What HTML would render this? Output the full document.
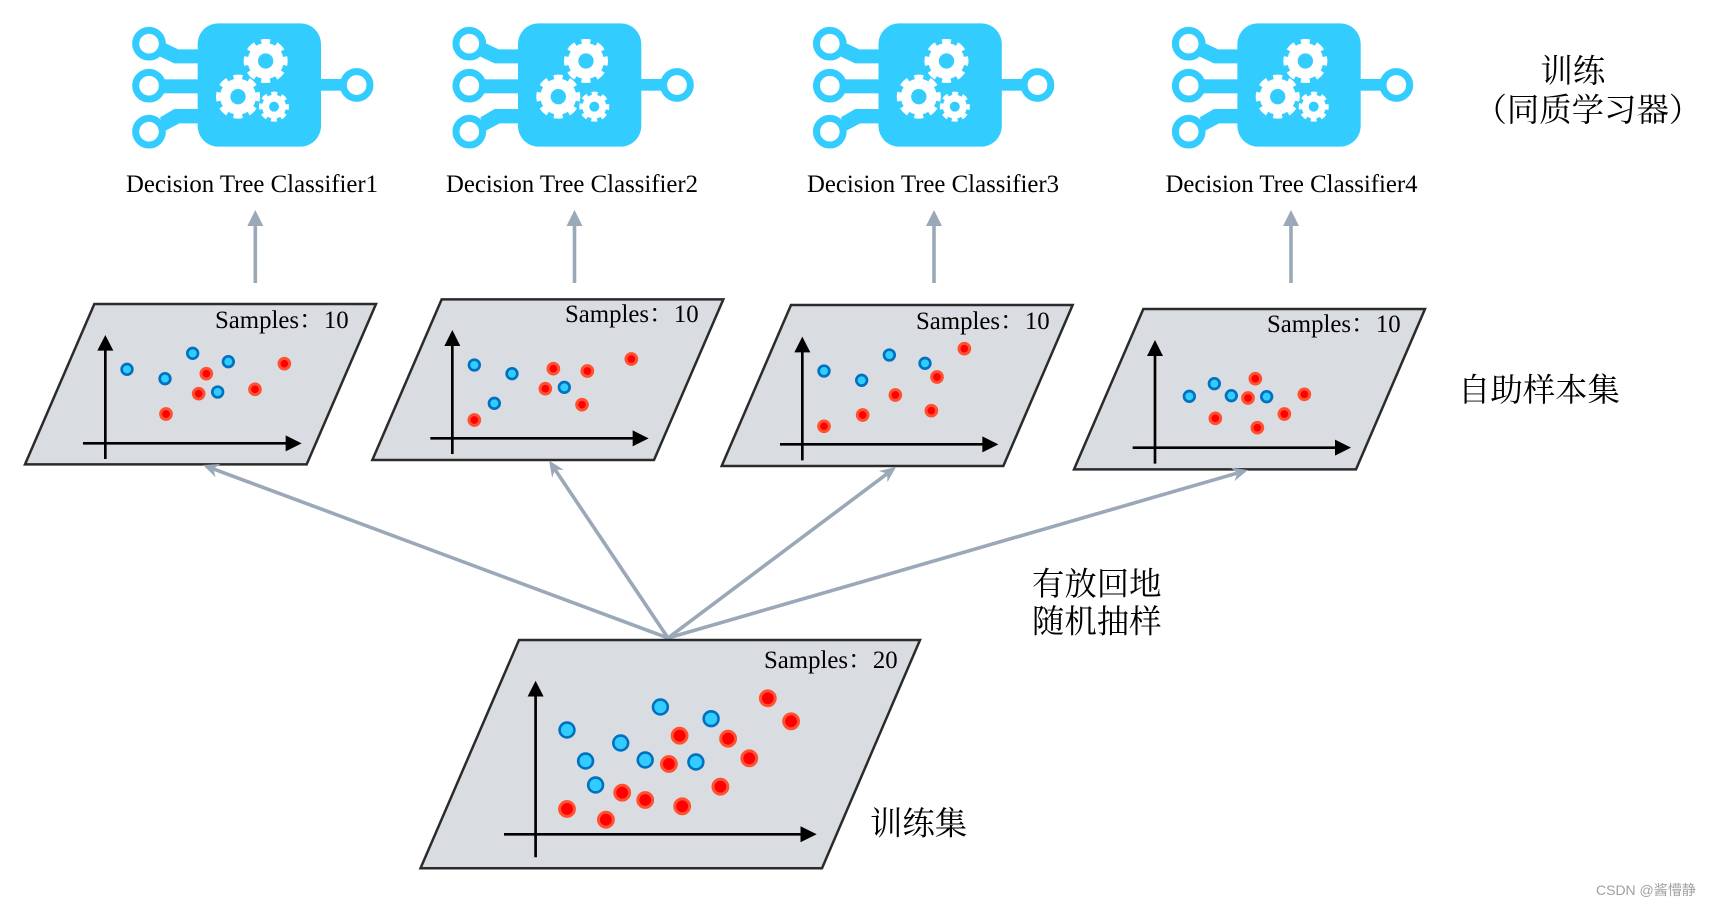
<!DOCTYPE html>
<html lang="zh">
<head>
<meta charset="utf-8">
<title>Bagging</title>
<style>
html,body{margin:0;padding:0;background:#fff;width:1711px;height:906px;overflow:hidden}
svg{display:block}
.en{font-family:"Liberation Serif",serif;font-size:24.8px;fill:#000}
.sm{font-family:"Liberation Serif","Noto Serif CJK SC",serif;font-size:24.8px;fill:#000}
.zh{font-family:"Liberation Serif","Noto Serif CJK SC",serif;font-size:32.4px;fill:#000}
.wm{font-family:"Liberation Sans","Noto Sans CJK SC",sans-serif;font-size:14px;fill:#a0a0a0}
.p{fill:#d9dce0;stroke:#2b2b2b;stroke-width:7.5;stroke-linejoin:miter}
.pb{fill:#d9dce0;stroke:#2b2b2b;stroke-width:2.5;stroke-linejoin:miter}
.ax{stroke:#000;stroke-width:8;fill:none}
.b circle{fill:#33ccff;stroke:#0070c0;stroke-width:8}
.r circle{fill:#f00;stroke:#ff5030;stroke-width:9}
.gr{stroke:#9aa8b8;stroke-width:3.6;fill:none}
</style>
</head>
<body>
<svg width="1711" height="906" viewBox="0 0 1711 906" xmlns="http://www.w3.org/2000/svg">
<defs>
<g id="icon">
  <g fill="#33ccff">
    <rect x="233" y="70" width="370" height="370" rx="62" ry="62"/>
    <polygon points="137,130 175,148 240,148 240,190 163,190 120,170"/>
    <rect x="125" y="238" width="115" height="42"/>
    <polygon points="120,352 163,327 240,327 240,370 178,370 137,392"/>
    <rect x="595" y="237" width="75" height="35"/>
  </g>
  <g fill="#fff" stroke="#33ccff" stroke-width="21">
    <circle cx="87" cy="131" r="40"/>
    <circle cx="87" cy="257" r="40"/>
    <circle cx="87" cy="395" r="40"/>
    <circle cx="710" cy="255" r="40"/>
  </g>
  <g>
    <circle cx="437" cy="183" r="54" fill="#fff"/>
    <circle cx="437" cy="183" r="59" fill="none" stroke="#fff" stroke-width="14" pathLength="16" stroke-dasharray="1.15 .85" stroke-dashoffset="0.575"/>
    <circle cx="437" cy="183" r="23" fill="#33ccff"/>
    <circle cx="354" cy="290" r="54" fill="#fff"/>
    <circle cx="354" cy="290" r="59" fill="none" stroke="#fff" stroke-width="14" pathLength="16" stroke-dasharray="1.15 .85" stroke-dashoffset="0.575"/>
    <circle cx="354" cy="290" r="23" fill="#33ccff"/>
    <circle cx="462" cy="320" r="36" fill="#fff"/>
    <circle cx="462" cy="320" r="40" fill="none" stroke="#fff" stroke-width="10" pathLength="16" stroke-dasharray="1.15 .85" stroke-dashoffset="0.575"/>
    <circle cx="462" cy="320" r="15" fill="#33ccff"/>
  </g>
</g>
</defs>

<!-- icons -->
<use href="#icon" transform="translate(120 0) scale(.33333)"/>
<use href="#icon" transform="translate(440.3 0) scale(.33333)"/>
<use href="#icon" transform="translate(800.8 0) scale(.33333)"/>
<use href="#icon" transform="translate(1159.7 0) scale(.33333)"/>

<text class="en" x="126" y="192">Decision Tree Classifier1</text>
<text class="en" x="446" y="192">Decision Tree Classifier2</text>
<text class="en" x="807" y="192">Decision Tree Classifier3</text>
<text class="en" x="1165.500" y="192">Decision Tree Classifier4</text>

<text class="zh" x="1540.500" y="82">训练</text>
<text class="zh" x="1474.500" y="121">（同质学习器）</text>

<!-- vertical arrows -->
<g>
  <line class="gr" x1="255.300" y1="283" x2="255.300" y2="215"/><polygon points="255.300,210 247.300,226 263.300,226" fill="#9aa8b8"/>
  <line class="gr" x1="574.500" y1="283" x2="574.500" y2="215"/><polygon points="574.500,210 566.500,226 582.500,226" fill="#9aa8b8"/>
  <line class="gr" x1="934" y1="283" x2="934" y2="215"/><polygon points="934,210 926,226 942,226" fill="#9aa8b8"/>
  <line class="gr" x1="1291" y1="283" x2="1291" y2="215"/><polygon points="1291,210 1283,226 1299,226" fill="#9aa8b8"/>
</g>

<!-- panel 1 -->
<g transform="translate(0 280) scale(.33333)">
  <polygon class="p" points="283,72 1128,72 920,553 75,553"/>
  <line class="ax" x1="316" y1="205" x2="316" y2="537"/><polygon points="316,165 292,212 340,212"/>
  <line class="ax" x1="249" y1="490" x2="865" y2="490"/><polygon points="905,490 857,466 857,514"/>
  <g class="b"><circle cx="381" cy="268" r="16"/><circle cx="495" cy="296" r="16"/><circle cx="578" cy="220" r="16"/><circle cx="685" cy="245" r="16"/><circle cx="653" cy="336" r="16"/></g>
  <g class="r"><circle cx="619" cy="281" r="16"/><circle cx="596" cy="341" r="16"/><circle cx="765" cy="328" r="16"/><circle cx="853" cy="251" r="16"/><circle cx="498" cy="402" r="16"/></g>
</g>
<text class="sm" x="215" y="328">Samples：10</text>

<!-- panel 2 -->
<g transform="translate(360 280) scale(.33333)">
  <polygon class="p" points="245,58 1090,58 882,540 37,540"/>
  <line class="ax" x1="277" y1="190" x2="277" y2="522"/><polygon points="277,150 253,198 301,198"/>
  <line class="ax" x1="211" y1="475" x2="826" y2="475"/><polygon points="866,475 818,451 818,499"/>
  <g class="b"><circle cx="343" cy="255" r="16"/><circle cx="456" cy="281" r="16"/><circle cx="403" cy="370" r="16"/><circle cx="613" cy="322" r="16"/></g>
  <g class="r"><circle cx="580" cy="266" r="16"/><circle cx="682" cy="273" r="16"/><circle cx="814" cy="237" r="16"/><circle cx="556" cy="326" r="16"/><circle cx="666" cy="374" r="16"/><circle cx="343" cy="420" r="16"/></g>
</g>
<text class="sm" x="565" y="322">Samples：10</text>

<!-- panel 3 -->
<g transform="translate(710 280) scale(.33333)">
  <polygon class="p" points="243,75 1088,75 880,558 35,558"/>
  <line class="ax" x1="277" y1="210" x2="277" y2="541"/><polygon points="277,170 253,217 301,217"/>
  <line class="ax" x1="210" y1="493" x2="825" y2="493"/><polygon points="865,493 817,469 817,517"/>
  <g class="b"><circle cx="342" cy="273" r="16"/><circle cx="455" cy="301" r="16"/><circle cx="538" cy="225" r="16"/><circle cx="645" cy="250" r="16"/></g>
  <g class="r"><circle cx="763" cy="206" r="16"/><circle cx="681" cy="291" r="16"/><circle cx="556" cy="345" r="16"/><circle cx="664" cy="392" r="16"/><circle cx="458" cy="405" r="16"/><circle cx="342" cy="439" r="16"/></g>
</g>
<text class="sm" x="916" y="329">Samples：10</text>

<!-- panel 4 -->
<g transform="translate(1060 280) scale(.33333)">
  <polygon class="p" points="250,87 1095,87 888,568 42,568"/>
  <line class="ax" x1="285" y1="220" x2="285" y2="551"/><polygon points="285,180 261,228 309,228"/>
  <line class="ax" x1="218" y1="503" x2="833" y2="503"/><polygon points="873,503 825,479 825,527"/>
  <g class="b"><circle cx="388" cy="349" r="16"/><circle cx="463" cy="311" r="16"/><circle cx="514" cy="347" r="16"/><circle cx="620" cy="350" r="16"/></g>
  <g class="r"><circle cx="586" cy="296" r="16"/><circle cx="564" cy="354" r="16"/><circle cx="733" cy="343" r="16"/><circle cx="673" cy="402" r="16"/><circle cx="466" cy="415" r="16"/><circle cx="592" cy="443" r="16"/></g>
</g>
<text class="sm" x="1267" y="332">Samples：10</text>

<text class="zh" x="1458" y="401">自助样本集</text>

<!-- sampling arrows -->
<g>
  <line class="gr" x1="668" y1="638" x2="212" y2="468.400"/>
  <polygon fill="#9aa8b8" points="203,465 215.600,477.200 213.300,468.800 220.400,464"/>
  <line class="gr" x1="668" y1="638" x2="555" y2="469.500"/>
  <polygon fill="#9aa8b8" points="549,460.500 552.100,477.700 555.100,469.600 563.700,469.900"/>
  <line class="gr" x1="668" y1="638" x2="887" y2="473.800"/>
  <polygon fill="#9aa8b8" points="896,467 887.400,482.200 887.200,473.600 879,471"/>
  <line class="gr" x1="668" y1="638" x2="1237" y2="473.200"/>
  <polygon fill="#9aa8b8" points="1248,470 1234.500,481.100 1237.400,473.100 1230.700,467.700"/>
</g>

<text class="zh" x="1032" y="595">有放回地</text>
<text class="zh" x="1032" y="632.500">随机抽样</text>

<!-- big panel -->
<polygon class="pb" points="519,640 920,640 822,868.300 420.500,868.300"/>
<line stroke="#000" stroke-width="2.700" x1="535.600" y1="694" x2="535.600" y2="857.300"/>
<polygon points="535.600,680.700 527.600,696.500 543.600,696.500"/>
<line stroke="#000" stroke-width="2.700" x1="504" y1="834.300" x2="802" y2="834.300"/>
<polygon points="816.700,834.300 800.500,826.300 800.500,842.300"/>
<g fill="#33ccff" stroke="#0070c0" stroke-width="2.600">
  <circle cx="567" cy="730" r="7.400"/><circle cx="585.600" cy="761" r="7.400"/><circle cx="595.600" cy="785" r="7.400"/><circle cx="620.700" cy="743" r="7.400"/><circle cx="645.200" cy="760" r="7.400"/><circle cx="660.400" cy="707" r="7.400"/><circle cx="711.100" cy="718.700" r="7.400"/><circle cx="695.900" cy="762" r="7.400"/>
</g>
<g fill="#f00" stroke="#ff5030" stroke-width="3">
  <circle cx="567" cy="809" r="7.400"/><circle cx="605.900" cy="819.700" r="7.400"/><circle cx="622.200" cy="792.700" r="7.400"/><circle cx="645.200" cy="800" r="7.400"/><circle cx="682.200" cy="806.300" r="7.400"/><circle cx="720.400" cy="786.700" r="7.400"/><circle cx="668.900" cy="764" r="7.400"/><circle cx="679.600" cy="735.700" r="7.400"/><circle cx="728.100" cy="738.700" r="7.400"/><circle cx="749.300" cy="758.300" r="7.400"/><circle cx="767.800" cy="698.300" r="7.400"/><circle cx="791.100" cy="721.300" r="7.400"/>
</g>
<text class="sm" x="764" y="668">Samples：20</text>
<text class="zh" x="870" y="834.500">训练集</text>

<text class="wm" x="1596" y="895">CSDN @酱懵静</text>
</svg>
</body>
</html>
